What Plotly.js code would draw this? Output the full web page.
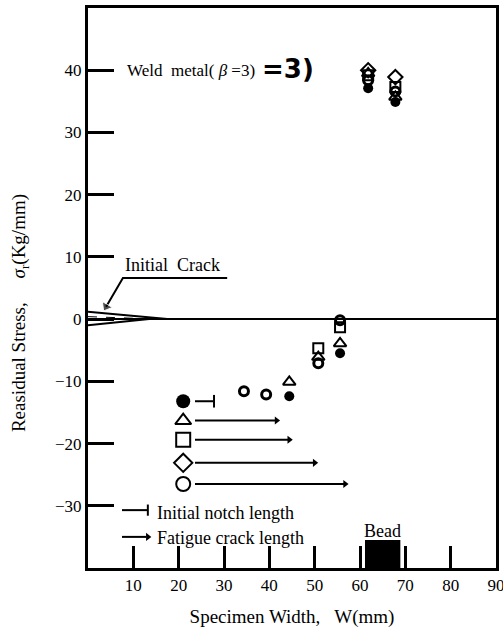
<!DOCTYPE html>
<html>
<head>
<meta charset="utf-8">
<script src="https://cdn.plot.ly/plotly-3.0.1.min.js"></script>
<style>html,body{margin:0;padding:0;background:#fff;}#chart{width:503px;height:636px;}</style>
</head>
<body>
<div id="chart"></div>
<script>
// ---- data ----
const filledX = [44.4, 55.6, 61.8, 67.8];
const filledY = [-12.4, -5.5, 37.1, 34.9];
const triX = [44.4, 50.8, 55.6, 61.8, 67.8];
const triY = [-10.1, -6.1, -3.9, 39.5, 35.7];
const sqX = [50.8, 55.6, 61.8, 67.8];
const sqY = [-4.7, -1.3, 39.2, 37.3];
const diaX = [61.8, 67.8];
const diaY = [40.0, 38.9];
const ringX = [34.4, 39.3, 50.8, 55.6, 61.8, 67.8];
const ringY = [-11.6, -12.1, -7.1, -0.2, 38.4, 36.6];

// key rows: marker, notch / crack length arrows
const keySymbols = ['circle', 'triangle-up-open', 'square-open', 'diamond-open', 'circle-open'];
const keyY = [-13.2, -16.3, -19.4, -23.1, -26.5];
const keyMarkerX = 21.0;
const keyLineStart = 23.6;
const keyLineEnd = [27.8, 41.6, 44.4, 50.0, 56.7];

// crack wedge
const crackTopX = [0, 17.5], crackTopY = [1.2, 0];
const crackBotX = [0, 13.5], crackBotY = [-1.0, 0];
const crackMidX = [0, 15], crackMidY = [0.4, 0];
// "Initial Crack" leader
const leaderX = [30.7, 7.7, 4.0], leaderY = [6.6, 6.6, 2.0];

// bead
const beadX0 = 61.1, beadX1 = 68.9, beadTop = -35.5;

const xTicks = [10, 20, 30, 40, 50, 60, 70, 80, 90];
const xTickText = ['10', '20', '30', '40', '50', '60', '70', '80', '90'];
const yTicks = [40, 30, 20, 10, 0, -10, -20, -30];
const yTickText = ['40', '30', '20', '10', '0', '\u221210', '\u221220', '\u221230'];

const serif = 'Liberation Serif, Times New Roman, serif';
const K = '#000';
const traces = [];

// zero line
traces.push({x: [0, 90], y: [0, 0], mode: 'lines', line: {color: K, width: 2}, hoverinfo: 'skip', showlegend: false});
// crack wedge
traces.push({x: crackTopX, y: crackTopY, mode: 'lines', line: {color: K, width: 2}, showlegend: false});
traces.push({x: crackBotX, y: crackBotY, mode: 'lines', line: {color: K, width: 2}, showlegend: false});
traces.push({x: crackMidX, y: crackMidY, mode: 'lines', line: {color: K, width: 1, dash: 'dash'}, showlegend: false});
// leader line with arrow head
traces.push({x: leaderX, y: leaderY, mode: 'lines+markers', line: {color: K, width: 2}, showlegend: false,
  marker: {symbol: 'triangle-up', angleref: 'previous', size: [0, 0, 10], color: K}});

// key arrows
for (let i = 0; i < keyY.length; i++) {
  traces.push({x: [keyLineStart, keyLineEnd[i]], y: [keyY[i], keyY[i]], mode: 'lines', line: {color: K, width: 2}, showlegend: false});
  traces.push({x: [keyLineEnd[i]], y: [keyY[i]], mode: 'markers', showlegend: false,
    marker: i === 0 ? {symbol: 'line-ns-open', size: 9, color: K, line: {color: K, width: 2}} : {symbol: 'triangle-right', size: 7, color: K}});
  const open = keySymbols[i] !== 'circle';
  traces.push({x: [keyMarkerX], y: [keyY[i]], mode: 'markers', showlegend: false,
    marker: {symbol: keySymbols[i], size: 14, color: K, line: {color: K, width: open ? 2 : 0}}});
}

// bottom key ("Initial notch length", "Fatigue crack length")
traces.push({x: [7.5, 13.2], y: [-30.7, -30.7], mode: 'lines', line: {color: K, width: 2}, showlegend: false});
traces.push({x: [13.2], y: [-30.7], mode: 'markers', marker: {symbol: 'line-ns-open', size: 8, color: K, line: {color: K, width: 2}}, showlegend: false});
traces.push({x: [7.5, 12.8], y: [-35.0, -35.0], mode: 'lines', line: {color: K, width: 2}, showlegend: false});
traces.push({x: [13.2], y: [-35.0], mode: 'markers', marker: {symbol: 'triangle-right', size: 7, color: K}, showlegend: false});

// data series
traces.push({x: ringX, y: ringY, mode: 'markers', name: 'circle', showlegend: false,
  marker: {symbol: 'circle-open', size: 9, color: K, line: {color: K, width: 3}}});
traces.push({x: diaX, y: diaY, mode: 'markers', name: 'diamond', showlegend: false,
  marker: {symbol: 'diamond-open', size: 11, color: K, line: {color: K, width: 2}}});
traces.push({x: sqX, y: sqY, mode: 'markers', name: 'square', showlegend: false,
  marker: {symbol: 'square-open', size: 10, color: K, line: {color: K, width: 2}}});
traces.push({x: triX, y: triY, mode: 'markers', name: 'triangle', showlegend: false,
  marker: {symbol: 'triangle-up-open', size: 11, color: K, line: {color: K, width: 2}}});
traces.push({x: filledX, y: filledY, mode: 'markers', name: 'filled', showlegend: false,
  marker: {symbol: 'circle', size: 10, color: K}});

const layout = {
  width: 503, height: 636,
  margin: {l: 88, r: 7, t: 8, b: 68},
  paper_bgcolor: '#fff', plot_bgcolor: '#fff',
  showlegend: false,
  font: {family: serif, color: K, size: 18},
  xaxis: {
    range: [0, 90], tickvals: xTicks, ticktext: xTickText,
    ticks: 'inside', ticklen: 22, tickwidth: 3, tickcolor: K,
    showgrid: false, zeroline: false,
    showline: true, linewidth: 3, linecolor: K, mirror: true,
    tickfont: {family: serif, size: 17}, ticklabeloverflow: 'allow',
    title: {text: 'Specimen Width,   W(mm)', font: {family: serif, size: 19}, standoff: 16},
    automargin: false, fixedrange: true
  },
  yaxis: {
    range: [-40, 50], tickvals: yTicks, ticktext: yTickText,
    ticks: 'inside', ticklen: 26, tickwidth: 3, tickcolor: K,
    showgrid: false, zeroline: false,
    showline: true, linewidth: 3, linecolor: K, mirror: true,
    tickfont: {family: serif, size: 17},
    automargin: false, fixedrange: true
  },
  shapes: [
    {type: 'rect', xref: 'x', yref: 'y', x0: beadX0, x1: beadX1, y0: -40, y1: beadTop,
     fillcolor: K, line: {width: 0}}
  ],
  annotations: [
    {x: -0.167, y: 0.455, xref: 'paper', yref: 'paper', xanchor: 'center', yanchor: 'middle', showarrow: false,
     textangle: -90, text: 'Reasidual Stress,     <i>σ</i><sub>r</sub>(Kg/mm)', font: {family: serif, size: 19}},
    {x: 7.8, y: 8.7, xref: 'x', yref: 'y', xanchor: 'left', yanchor: 'middle', showarrow: false,
     text: 'Initial  Crack', font: {family: serif, size: 18}},
    {x: 8.2, y: 40, xref: 'x', yref: 'y', xanchor: 'left', yanchor: 'middle', showarrow: false,
     text: 'Weld  metal( <i>β</i> =3)', font: {family: serif, size: 17}},
    {x: 38.0, y: 40.2, xref: 'x', yref: 'y', xanchor: 'left', yanchor: 'middle', showarrow: false,
     text: '<b>=3)</b>', font: {family: 'DejaVu Sans, sans-serif', size: 26}},
    {x: 14.8, y: -31.2, xref: 'x', yref: 'y', xanchor: 'left', yanchor: 'middle', showarrow: false,
     text: 'Initial notch length', font: {family: serif, size: 18}},
    {x: 14.8, y: -35.1, xref: 'x', yref: 'y', xanchor: 'left', yanchor: 'middle', showarrow: false,
     text: 'Fatigue crack length', font: {family: serif, size: 18}},
    {x: (beadX0 + beadX1) / 2, y: beadTop, xref: 'x', yref: 'y', xanchor: 'center', yanchor: 'bottom', showarrow: false,
     text: 'Bead', font: {family: serif, size: 18}, yshift: -3}
  ]
};

Plotly.newPlot('chart', traces, layout, {displayModeBar: false, staticPlot: true});
</script>
</body>
</html>
